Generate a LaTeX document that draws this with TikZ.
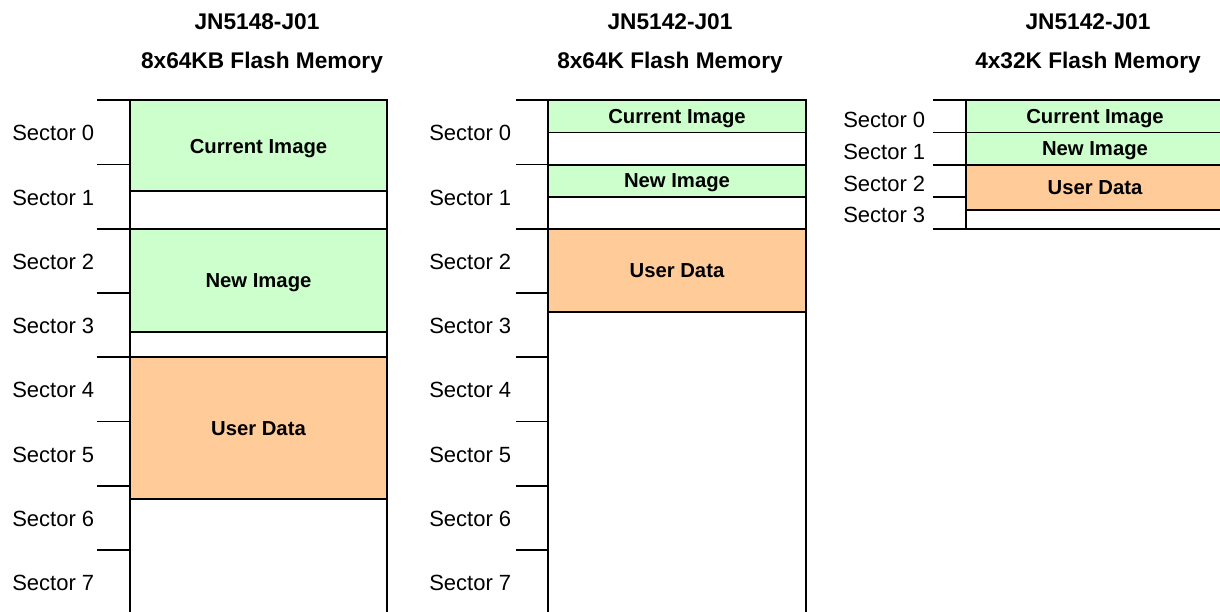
\documentclass[tikz,border=0pt]{standalone}
\usepackage{fontspec}
\setmainfont{Liberation Sans}
\definecolor{imggreen}{HTML}{CCFFCC}
\definecolor{userorange}{HTML}{FFCC99}
\begin{document}
\begin{tikzpicture}[x=0.75pt,y=-0.75pt,
  divider/.style={draw=black, line width=1pt},
  frame/.style={draw=black, line width=1.8pt},
  tickline/.style={draw=black, line width=1pt},
  seclabel/.style={anchor=west, font=\fontsize{16.5}{19}\selectfont, inner sep=0pt, text depth=0pt},
  boxlabel/.style={font=\fontsize{15.2}{18}\selectfont\bfseries, inner sep=0pt, text depth=0pt},
  titlelabel/.style={font=\fontsize{17}{20}\selectfont\bfseries, inner sep=0pt, text depth=0pt}]
\useasboundingbox (0,0) rectangle (1220,611);
\clip (0,0) rectangle (1220,611);

% ---------- Titles ----------
\node[titlelabel] (t1a) at (257,22) {JN5148-J01};
\node[titlelabel] (t1b) at (262,60) {8x64KB Flash Memory};
\node[titlelabel] (t2a) at (670,22) {JN5142-J01};
\node[titlelabel] (t2b) at (670,60) {8x64K Flash Memory};
\node[titlelabel] (t3a) at (1088,22) {JN5142-J01};
\node[titlelabel] (t3b) at (1088,60) {4x32K Flash Memory};

% ---------- Left: JN5148 ----------
\fill[imggreen] (130,100) rectangle (387,191);
\fill[imggreen] (130,229) rectangle (387,332);
\fill[userorange] (130,357) rectangle (387,499);
\foreach \yy in {191,229,332,357,499} \draw[divider] (130,\yy) -- (387,\yy);
\draw[frame] (130,630) -- (130,100) -- (387,100) -- (387,630);
\foreach \yy in {100,164.5,229,293,357,421.5,486,550} \draw[tickline] (97,\yy) -- (130,\yy);
\foreach \i/\yy in {0/133,1/197.5,2/262,3/326,4/390,5/454.5,6/519,7/583}
  \node[seclabel] (ls\i) at (12,\yy) {Sector \i};
\node[boxlabel] (lcur) at (258.5,146) {Current Image};
\node[boxlabel] (lnew) at (258.5,281) {New Image};
\node[boxlabel] (lusr) at (258.5,429) {User Data};

% ---------- Middle: JN5142 8x64K ----------
\fill[imggreen] (548,100) rectangle (806,132.5);
\fill[imggreen] (548,165) rectangle (806,197);
\fill[userorange] (548,229) rectangle (806,312);
\foreach \yy in {132.5,165,197,229,312} \draw[divider] (548,\yy) -- (806,\yy);
\draw[frame] (548,630) -- (548,100) -- (806,100) -- (806,630);
\foreach \yy in {100,164.5,229,293,357,421.5,486,550} \draw[tickline] (516,\yy) -- (548,\yy);
\foreach \i/\yy in {0/133,1/197.5,2/262,3/326,4/390,5/454.5,6/519,7/583}
  \node[seclabel] (ms\i) at (429,\yy) {Sector \i};
\node[boxlabel] (mcur) at (677,116.5) {Current Image};
\node[boxlabel] (mnew) at (677,181) {New Image};
\node[boxlabel] (musr) at (677,270.5) {User Data};

% ---------- Right: JN5142 4x32K ----------
\fill[imggreen] (966,100) rectangle (1224,132.5);
\fill[imggreen] (966,132.5) rectangle (1224,165);
\fill[userorange] (966,165) rectangle (1224,210);
\foreach \yy in {132.5,165,210} \draw[divider] (966,\yy) -- (1224,\yy);
\draw[frame] (1224,100) -- (966,100) -- (966,229) -- (1224,229);
\foreach \yy in {100,132.5,165,197,229} \draw[tickline] (933,\yy) -- (966,\yy);
\foreach \i/\yy in {0/119.5,1/151.5,2/183.5,3/215}
  \node[seclabel] (rs\i) at (843,\yy) {Sector \i};
\node[boxlabel] (rcur) at (1095,116.5) {Current Image};
\node[boxlabel] (rnew) at (1095,148.5) {New Image};
\node[boxlabel] (rusr) at (1095,187.5) {User Data};
\end{tikzpicture}
\end{document}
